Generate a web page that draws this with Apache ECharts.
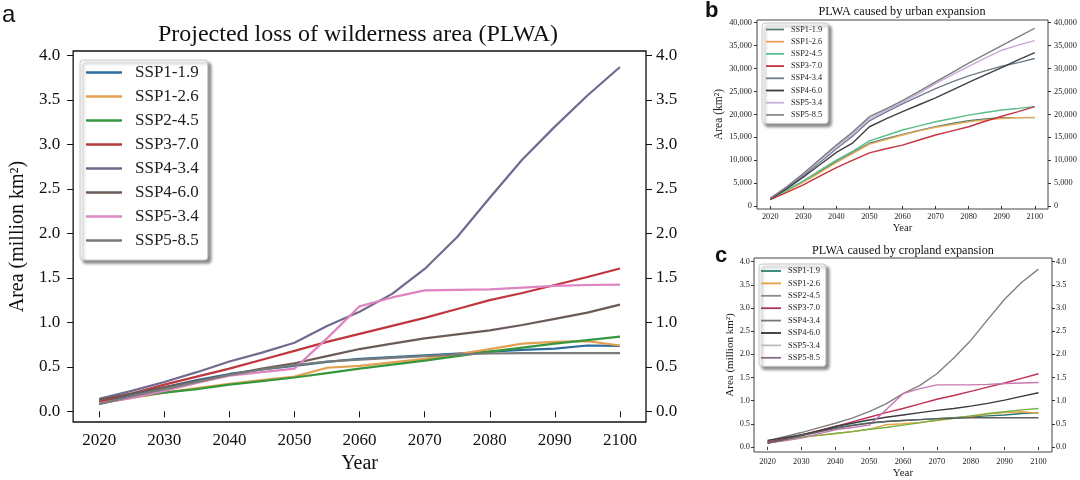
<!DOCTYPE html>
<html><head><meta charset="utf-8">
<script src="https://cdn.jsdelivr.net/npm/echarts@6/dist/echarts.min.js"></script>
<style>html,body{margin:0;padding:0;background:#fff}#c{width:1080px;height:480px}</style>
</head><body><div id="c"></div>
<script>
// ---------- data ----------
const years = [2020,2025,2030,2035,2040,2045,2050,2055,2060,2065,2070,2075,2080,2085,2090,2095,2100];
const scenarios = ['SSP1-1.9','SSP1-2.6','SSP2-4.5','SSP3-7.0','SSP4-3.4','SSP4-6.0','SSP5-3.4','SSP5-8.5'];
const yearTicks = [2020,2030,2040,2050,2060,2070,2080,2090,2100];
const millionTicks = [0,0.5,1,1.5,2,2.5,3,3.5,4];
const urbanTicks = [0,5000,10000,15000,20000,25000,30000,35000,40000];

// Panel a: total PLWA (million km2)
const a119 = [0.10,0.19,0.27,0.35,0.42,0.47,0.51,0.555,0.59,0.61,0.63,0.65,0.67,0.69,0.705,0.74,0.735];
const a126 = [0.09,0.15,0.21,0.26,0.31,0.35,0.39,0.49,0.51,0.55,0.59,0.64,0.70,0.76,0.78,0.79,0.74];
const a245 = [0.09,0.16,0.21,0.25,0.30,0.34,0.38,0.43,0.48,0.525,0.57,0.62,0.67,0.715,0.76,0.80,0.84];
const a370 = [0.11,0.20,0.30,0.39,0.48,0.58,0.68,0.78,0.87,0.96,1.05,1.15,1.25,1.33,1.42,1.51,1.605];
const a434 = [0.14,0.23,0.33,0.44,0.56,0.66,0.77,0.96,1.12,1.32,1.60,1.96,2.40,2.83,3.20,3.55,3.87];
const a460 = [0.13,0.20,0.27,0.34,0.41,0.48,0.54,0.62,0.70,0.76,0.82,0.865,0.91,0.97,1.04,1.11,1.20];
const a534 = [0.09,0.15,0.23,0.32,0.40,0.44,0.48,0.82,1.18,1.28,1.36,1.365,1.37,1.39,1.41,1.42,1.425];
const a585 = [0.08,0.17,0.25,0.33,0.41,0.47,0.52,0.56,0.58,0.60,0.62,0.64,0.65,0.655,0.655,0.655,0.655];

// Panel b: PLWA caused by urban expansion (km2)
const b119 = [1500,3400,5300,7500,9700,11700,13700,14700,15600,16500,17300,18000,18600,19000,19300,19300,19300];
const b126 = [1500,3300,5200,7300,9500,11500,13500,14500,15500,16400,17200,17800,18400,18800,19100,19300,19350];
const b245 = [1500,3500,5500,7800,10000,12000,14200,15400,16600,17500,18400,19100,19850,20400,20950,21300,21700];
const b370 = [1400,3000,4600,6500,8400,10000,11600,12500,13300,14400,15500,16400,17300,18500,19600,20600,21700];
const b434 = [1600,4000,6700,9500,12500,15300,18600,20500,22300,24000,25600,27100,28400,29500,30500,31300,32200];
const b460 = [1500,3800,6300,9000,11700,13800,17300,19000,20600,22100,23600,25300,27000,28600,30200,31900,33500];
const b534 = [1700,4200,7000,10000,13000,15800,19100,20900,22600,24600,26700,28600,30500,32300,34000,35100,36100];
const b585 = [1700,4200,7100,10200,13300,16200,19500,21200,23000,25000,27100,29100,31200,33100,35000,36900,38800];

// Panel c: PLWA caused by cropland expansion (million km2)
const c119 = [0.10,0.18,0.26,0.34,0.41,0.47,0.52,0.55,0.57,0.59,0.61,0.63,0.65,0.67,0.69,0.72,0.74];
const c126 = [0.09,0.15,0.21,0.25,0.29,0.33,0.38,0.48,0.50,0.53,0.57,0.62,0.66,0.71,0.74,0.76,0.73];
const c245 = [0.09,0.15,0.21,0.25,0.29,0.33,0.38,0.42,0.47,0.52,0.58,0.62,0.67,0.72,0.76,0.80,0.83];
const c370 = [0.11,0.18,0.26,0.35,0.44,0.54,0.64,0.74,0.83,0.93,1.03,1.11,1.20,1.29,1.38,1.48,1.58];
const c434 = [0.13,0.22,0.31,0.41,0.51,0.62,0.76,0.93,1.15,1.33,1.58,1.92,2.30,2.75,3.19,3.55,3.84];
const c460 = [0.14,0.20,0.26,0.34,0.44,0.51,0.58,0.64,0.69,0.74,0.79,0.83,0.88,0.94,1.01,1.09,1.17];
const c534 = [0.09,0.13,0.19,0.28,0.37,0.42,0.47,0.80,1.15,1.26,1.34,1.34,1.34,1.35,1.37,1.38,1.39];
const c585 = [0.08,0.16,0.24,0.32,0.40,0.46,0.51,0.55,0.57,0.59,0.61,0.62,0.63,0.63,0.63,0.63,0.63];

// ---------- styles ----------
const aLine = ['#2b6c9c','#e3a04e','#36973f','#c0363c','#73698f','#6b5b57','#de84c0','#7a7a7a'];
const aLeg  = ['#2b6c9c','#e3a04e','#36973f','#b03a3a','#6e6a8c','#6a5a55','#d98ac0','#777777'];
const bLine = ['#5a7a70','#e8a858','#5abf8a','#c23442','#6f7f88','#404048','#c8a8d8','#7d7d85'];
const bLeg  = ['#5b7c74','#e8a35c','#5cbf95','#c8343c','#708088','#3c3c44','#c4b0d8','#8a8a8a'];
const cLine = ['#2a7a70','#e6a040','#78b040','#c03050','#808080','#3a3a40','#c878b0','#5e5e5e'];
const cLeg  = ['#2e7e6e','#e8a040','#8c8c8c','#a8385a','#777777','#333333','#bbbbbb','#8a6a8a'];

const SERIF = 'Liberation Serif, Times New Roman, serif';
const SANS = 'Liberation Sans, Arial, sans-serif';

function seriesFor(grid, vals, colors, width) {
  return scenarios.map((s, i) => ({
    name: s, type: 'line', xAxisIndex: grid, yAxisIndex: grid * 2,
    data: years.map((y, j) => [y, vals[i][j]]),
    showSymbol: false, symbol: 'none', silent: true,
    lineStyle: { color: colors[i], width: width },
    itemStyle: { color: colors[i] },
    z: 2 + i
  }));
}

function xAxisFor(grid, o) {
  return {
    type: 'value', gridIndex: grid, min: 2016, max: 2104,
    axisLine: { show: false },
    axisTick: { show: true, length: o.tick, customValues: yearTicks, lineStyle: { color: o.tc, width: 1 } },
    axisLabel: { customValues: yearTicks, formatter: v => String(v), fontFamily: SERIF, fontSize: o.fs, color: o.lc, margin: o.xm },
    splitLine: { show: false },
    name: 'Year', nameLocation: 'middle', nameGap: o.xng,
    nameTextStyle: { fontFamily: SERIF, fontSize: o.nfs, color: o.lc }
  };
}

function yAxesFor(grid, o) {
  const base = (pos) => ({
    type: 'value', gridIndex: grid, position: pos, min: o.min, max: o.max,
    axisLine: { show: false },
    axisTick: { show: true, length: o.tick, customValues: o.ticks, lineStyle: { color: o.tc, width: 1 } },
    axisLabel: { customValues: o.ticks, formatter: o.fmt, fontFamily: SERIF, fontSize: o.fs, color: o.lc,
                 margin: pos === 'left' ? o.lm : o.rm },
    splitLine: { show: false }
  });
  const left = base('left');
  left.name = o.name; left.nameLocation = 'middle'; left.nameGap = o.yng;
  left.nameTextStyle = { fontFamily: SERIF, fontSize: o.ynfs, color: o.lc };
  return [left, base('right')];
}

function legendFor(o, colors) {
  return {
    orient: 'vertical', left: o.left, top: o.top, padding: o.pad,
    icon: 'rect', itemWidth: o.iw, itemHeight: o.ih, itemGap: o.gap,
    selectedMode: false,
    textStyle: { fontFamily: SERIF, fontSize: o.fs, lineHeight: o.lh, color: '#222', padding: [0, 0, 0, o.tp] },
    backgroundColor: '#fff', borderColor: '#c8c8c8', borderWidth: 1, borderRadius: 3,
    shadowColor: 'rgba(0,0,0,0.45)', shadowBlur: 3, shadowOffsetX: 3, shadowOffsetY: 3,
    data: scenarios.map((s, i) => ({ name: s, itemStyle: { color: colors[i] } }))
  };
}

const fmt1 = v => v.toFixed(1);
const fmtK = v => v.toLocaleString('en-US');

const aOpt = { tick: 6, tc: '#111', fs: 17, lc: '#111', xm: 10, xng: 31, nfs: 20 };
const bOpt = { tick: 3, tc: '#333', fs: 8.3, lc: '#222', xm: 4, xng: 14, nfs: 10.5 };
const cOpt = { tick: 3, tc: '#333', fs: 8.3, lc: '#222', xm: 6, xng: 16, nfs: 11 };

const option = {
  animation: false,
  backgroundColor: '#fff',
  title: [
    { text: 'Projected loss of wilderness area (PLWA)', left: 358, top: 23, textAlign: 'center', padding: 0,
      textStyle: { fontFamily: SERIF, fontSize: 24, fontWeight: 'normal', color: '#111' } },
    { text: 'PLWA caused by urban expansion', left: 902, top: 6, textAlign: 'center', padding: 0,
      textStyle: { fontFamily: SERIF, fontSize: 12.2, fontWeight: 'normal', color: '#111' } },
    { text: 'PLWA caused by cropland expansion', left: 903, top: 245, textAlign: 'center', padding: 0,
      textStyle: { fontFamily: SERIF, fontSize: 12.2, fontWeight: 'normal', color: '#111' } }
  ],
  graphic: [
    { type: 'text', left: 2, top: 3, style: { text: 'a', font: '24px ' + SANS, fill: '#111' } },
    { type: 'text', left: 705, top: 0, style: { text: 'b', font: 'bold 22px ' + SANS, fill: '#111' } },
    { type: 'text', left: 715, top: 245, style: { text: 'c', font: 'bold 22px ' + SANS, fill: '#111' } }
  ],
  grid: [
    { left: 72, top: 51, width: 574, height: 371, show: true, borderColor: '#111', borderWidth: 1.3, containLabel: false },
    { left: 757, top: 20, width: 291, height: 189, show: true, borderColor: '#444', borderWidth: 1, containLabel: false },
    { left: 754, top: 258, width: 298, height: 194, show: true, borderColor: '#444', borderWidth: 1, containLabel: false }
  ],
  xAxis: [xAxisFor(0, aOpt), xAxisFor(1, bOpt), xAxisFor(2, cOpt)],
  yAxis: [
    ...yAxesFor(0, Object.assign({}, aOpt, { min: -0.12, max: 4.05, ticks: millionTicks, fmt: fmt1, lm: 13, rm: 10,
      name: 'Area (million km²)', yng: 40, ynfs: 20 })),
    ...yAxesFor(1, Object.assign({}, bOpt, { min: -650, max: 40600, ticks: urbanTicks, fmt: fmtK, lm: 5, rm: 6,
      name: 'Area (km²)', yng: 30, ynfs: 11.5 })),
    ...yAxesFor(2, Object.assign({}, cOpt, { min: -0.11, max: 4.08, ticks: millionTicks, fmt: fmt1, lm: 4, rm: 4,
      name: 'Area (million km²)', yng: 18, ynfs: 11 }))
  ],
  legend: [
    legendFor({ left: 80, top: 60, pad: [4, 9, 11, 6], iw: 36, ih: 2.5, gap: 7, fs: 17, lh: 17, tp: 8 }, aLeg),
    legendFor({ left: 762, top: 23, pad: [2, 6, 4, 4], iw: 18, ih: 1.8, gap: 3.2, fs: 8.3, lh: 9, tp: 2 }, bLeg),
    legendFor({ left: 759, top: 264, pad: [2.5, 6, 4, 2], iw: 20, ih: 1.8, gap: 3.4, fs: 8.5, lh: 9, tp: 2 }, cLeg)
  ],
  series: [
    ...seriesFor(0, [a119, a126, a245, a370, a434, a460, a534, a585], aLine, 2.2),
    ...seriesFor(1, [b119, b126, b245, b370, b434, b460, b534, b585], bLine, 1.4),
    ...seriesFor(2, [c119, c126, c245, c370, c434, c460, c534, c585], cLine, 1.4)
  ]
};

const chart = echarts.init(document.getElementById('c'), null, { renderer: 'canvas' });
chart.setOption(option);
</script>
</body></html>
